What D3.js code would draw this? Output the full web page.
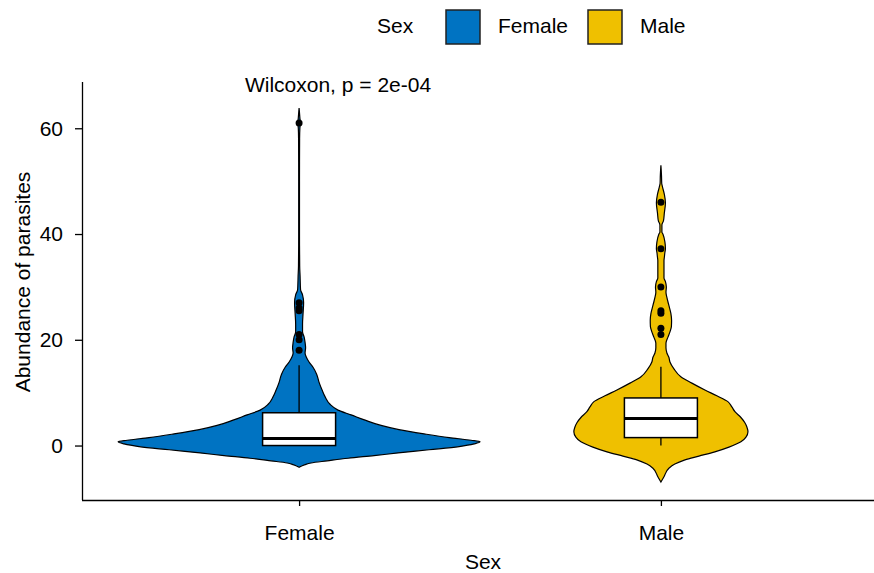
<!DOCTYPE html>
<html>
<head>
<meta charset="utf-8">
<script src="https://cdn.jsdelivr.net/npm/d3@7"></script>
<style>
  html, body { margin: 0; padding: 0; background: #fff; }
  svg { display: block; font-family: "Liberation Sans", Arial, sans-serif; }
</style>
</head>
<body>
<svg id="chart" width="874" height="573"></svg>
<script>
// Groups and colours
const categories = ["Female", "Male"];
const colors = ["#0073C2", "#EFC000"];

// Kernel density profiles: abundance value and relative density
const femaleValues  = [-4.1,-3.6,-3.3,-2.9,-2.4,-1.9,-1.4,-0.8,-0.2,0.3,0.7,1.0,1.5,2.2,3.0,3.8,4.8,5.8,6.7,7.8,9.2,10.5,12.0,13.5,14.8,15.8,16.8,17.5,18.5,19.5,20.5,21.5,23,25,27,28.5,29.5,32,34,40,50,58,60,61,62,63.8];
const femaleDensity = [0,0.033,0.066,0.155,0.271,0.414,0.547,0.718,0.884,0.967,1.0,0.950,0.829,0.691,0.552,0.453,0.365,0.287,0.215,0.171,0.144,0.127,0.110,0.097,0.077,0.055,0.039,0.033,0.036,0.033,0.028,0.019,0.019,0.022,0.025,0.019,0.008,0.0055,0.0033,0.0022,0.0022,0.0028,0.0044,0.0066,0.0044,0];

const maleValues  = [-6.9,-5.9,-4.3,-3.5,-2.7,-2.0,-1.2,-0.3,0.7,1.6,2.6,3.5,4.3,5.3,6.4,7.3,8.3,9.4,10.5,11.8,13,14.5,15.8,16.7,17.5,18.5,19.4,20.5,21.5,22.5,23.7,25,26.5,28,29,30,31,31.7,33,35,35.6,36.5,37.2,38.5,40,40.4,41.7,42.5,44,45.9,47.5,49,49.6,51,53];
const maleDensity = [0,0.017,0.044,0.077,0.133,0.210,0.298,0.376,0.442,0.470,0.481,0.475,0.464,0.442,0.409,0.392,0.370,0.309,0.243,0.171,0.110,0.072,0.050,0.044,0.033,0.028,0.028,0.039,0.050,0.058,0.059,0.055,0.044,0.033,0.028,0.030,0.025,0.017,0.017,0.017,0.019,0.022,0.025,0.022,0.011,0.0055,0.0055,0.014,0.019,0.025,0.019,0.008,0.0044,0.0033,0];

// Box plot statistics: [lower whisker, Q1, median, Q3, upper whisker]
const femaleBox = [0, 0, 1.35, 6.2, 15.2];
const maleBox   = [0, 1.5, 5.1, 9.0, 14.9];

// Outlying observations
const femaleOutliers = [61, 27, 26, 25.5, 21, 20, 18];
const maleOutliers   = [46, 37.2, 30, 25.5, 25, 22.2, 21];

const yTicks = [0, 20, 40, 60];
const testLabel = "Wilcoxon, p = 2e-04";

const groups = [
  { name: categories[0], color: colors[0], values: femaleValues, density: femaleDensity, box: femaleBox, outliers: femaleOutliers },
  { name: categories[1], color: colors[1], values: maleValues, density: maleDensity, box: maleBox, outliers: maleOutliers }
];

const svg = d3.select("#chart");
const panel = { left: 82, right: 878, top: 82, bottom: 500 };
const fontSize = 21;

const x = d3.scalePoint().domain(categories).range([panel.left, panel.right]).padding(0.6);
const y = d3.scaleLinear().domain([-10.3, 68.75]).range([panel.bottom, panel.top]);
const w = d3.scaleLinear().domain([0, 1]).range([0, 181]);
const boxHalf = 36.5;

// Violins
const area = d3.area()
  .curve(d3.curveMonotoneY)
  .y(d => y(d.v));

groups.forEach(g => {
  const cx = x(g.name);
  const pts = g.values.map((v, i) => ({ v, d: g.density[i] }));
  svg.append("path")
    .datum(pts)
    .attr("d", area.x0(d => cx - w(d.d)).x1(d => cx + w(d.d)))
    .attr("fill", g.color)
    .attr("stroke", "#000")
    .attr("stroke-width", 1.2);
});

// Box plots
groups.forEach(g => {
  const cx = x(g.name);
  const [lo, q1, med, q3, hi] = g.box;
  const gb = svg.append("g");
  gb.append("line").attr("x1", cx).attr("x2", cx).attr("y1", y(q3)).attr("y2", y(hi))
    .attr("stroke", "#000").attr("stroke-width", 1.3);
  gb.append("line").attr("x1", cx).attr("x2", cx).attr("y1", y(q1)).attr("y2", y(lo))
    .attr("stroke", "#000").attr("stroke-width", 1.3);
  gb.append("rect")
    .attr("x", cx - boxHalf).attr("width", boxHalf * 2)
    .attr("y", y(q3)).attr("height", y(q1) - y(q3))
    .attr("fill", "#fff").attr("stroke", "#000").attr("stroke-width", 1.5);
  gb.append("line").attr("x1", cx - boxHalf).attr("x2", cx + boxHalf)
    .attr("y1", y(med)).attr("y2", y(med))
    .attr("stroke", "#000").attr("stroke-width", 3);
  gb.selectAll("circle").data(g.outliers).join("circle")
    .attr("cx", cx).attr("cy", d => y(d)).attr("r", 3.5).attr("fill", "#000");
});

// Axes
const yAxis = svg.append("g").attr("transform", `translate(${panel.left},0)`)
  .call(d3.axisLeft(y).tickValues(yTicks).tickSize(7).tickPadding(12));
const xAxis = svg.append("g").attr("transform", `translate(0,${panel.bottom})`)
  .call(d3.axisBottom(x).tickSize(6).tickPadding(19));
[yAxis, xAxis].forEach(a => {
  a.select(".domain").attr("stroke", "#000").attr("stroke-width", 1.3);
  a.selectAll(".tick line").attr("stroke", "#000").attr("stroke-width", 1.3);
  a.selectAll(".tick text").attr("fill", "#000").attr("font-size", fontSize)
    .attr("font-family", "Liberation Sans, Arial, sans-serif");
});
xAxis.select(".domain").attr("d", `M${panel.left},0.5H${panel.right}`);
yAxis.select(".domain").attr("d", `M0.5,${panel.top}V${panel.bottom}`);

// Axis titles
svg.append("text").attr("x", 483).attr("y", 569).attr("text-anchor", "middle")
  .attr("font-size", fontSize).text("Sex");
svg.append("text").attr("transform", "translate(30,282) rotate(-90)")
  .attr("text-anchor", "middle").attr("font-size", fontSize).text("Abundance of parasites");

// Test annotation
svg.append("text").attr("x", 338).attr("y", 92).attr("text-anchor", "middle")
  .attr("font-size", fontSize).text(testLabel);

// Legend
svg.append("text").attr("x", 377).attr("y", 33).attr("font-size", fontSize).text("Sex");
const legendX = [446, 588];
groups.forEach((g, i) => {
  svg.append("rect").attr("x", legendX[i]).attr("y", 10).attr("width", 34).attr("height", 34)
    .attr("fill", g.color).attr("stroke", "#222").attr("stroke-width", 1.5);
  svg.append("text").attr("x", legendX[i] + 52).attr("y", 33).attr("font-size", fontSize).text(g.name);
});
</script>
</body>
</html>
